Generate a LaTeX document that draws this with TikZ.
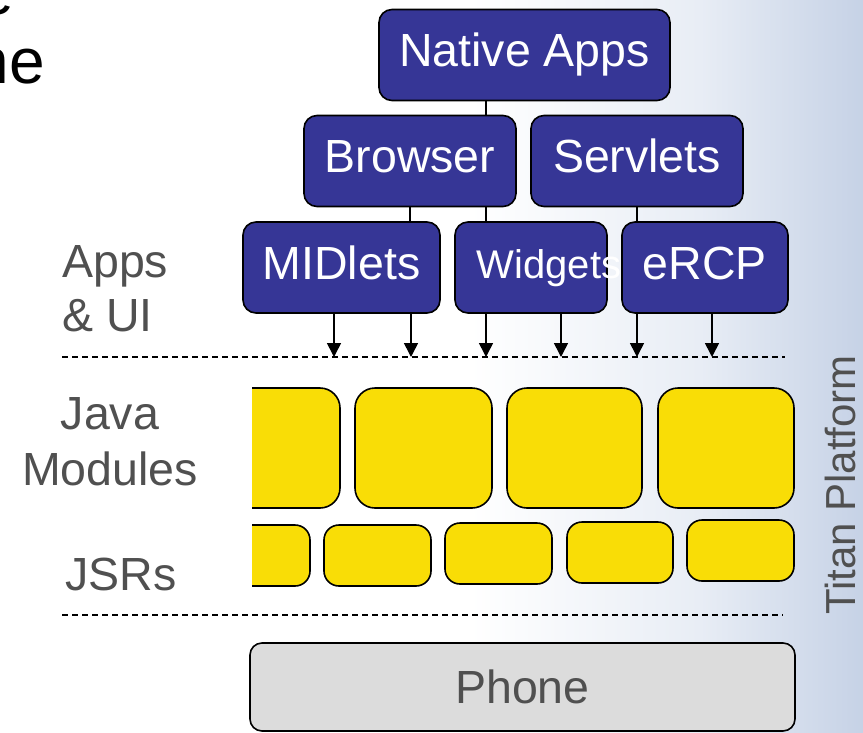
\documentclass[tikz,border=0pt]{standalone}
\usepackage{fontspec}
\setmainfont{Liberation Sans}
\usetikzlibrary{arrows.meta}
\usetikzlibrary{calc}
\definecolor{appblue}{RGB}{54,54,150}
\definecolor{modyellow}{RGB}{249,221,6}
\definecolor{phonegray}{RGB}{220,220,220}
\definecolor{labelgray}{RGB}{80,80,80}
\definecolor{bgblue}{RGB}{198,210,230}
\definecolor{bgmid}{RGB}{232,237,245}
\newcommand{\nagy}{\fontsize{46.5}{54}\selectfont}

\begin{document}
\begin{tikzpicture}[x=1pt,y=-1pt,>={Triangle[width=14pt,length=14pt]},
appbox/.style={rectangle,rounded corners=13pt,draw=black,line width=1.6pt,fill=appblue,text=white,font=\nagy,
  inner sep=0pt,minimum height=91pt,text height=34pt,text depth=11pt},
modul/.style={draw=black,line width=1.6pt,fill=modyellow},
kapocs/.style={line width=1.5pt},
sepline/.style={dash pattern=on 6pt off 4pt,line width=1.3pt},
layer/.style={text=labelgray,font=\nagy,inner sep=0pt}]

% background
\fill[white] (0,0) rectangle (863,732);
\shade[left color=white,right color=bgmid] (470,0) rectangle (700,732);
\shade[left color=bgmid,right color=bgblue] (700,0) rectangle (863,732);
\useasboundingbox (0,0) rectangle (863,732);
\clip (0,0) rectangle (863,732);

\node[anchor=base east,inner sep=0pt,font=\fontsize{64}{70}\selectfont] (cim1) at (14,14){e};
\node[anchor=base east,inner sep=0pt,font=\fontsize{64}{70}\selectfont] (cim2) at (45,83){ne};

% left labels
\node[layer,anchor=north west,align=left] (apps) at (62,245){Apps\\\& UI};
\node[layer,anchor=north,align=center,font=\fontsize{46.5}{56}\selectfont] (java) at (110,397){Java\\Modules};
\node[layer,anchor=base] (jsrs) at (121,590){JSRs};
\node[layer,rotate=90,anchor=base,font=\fontsize{42}{48}\selectfont] (titan) at (855,485){Titan Platform};

% apps
\node[appbox,minimum width=291pt](native) at (524.5,55){Native Apps};
\node[appbox,minimum width=212pt](browser) at (410,161){Browser};
\node[appbox,minimum width=212pt](servlets) at (637,161){Servlets};
\node[appbox,minimum width=197pt](midlets) at (341.5,267.5){MIDlets};
\node[appbox,minimum width=152pt](widget) at (531,267.5){};
\node[appbox,draw=none,fill=none,anchor=base,minimum height=0pt,text height=,text depth=,
  font=\fontsize{40}{46}\selectfont](widgettext) at ([xshift=18pt,yshift=-10.5pt]widget.center){Widgets};
\node[appbox,minimum width=166pt](ercp) at (705,267.5){eRCP};

\draw[kapocs] ([xshift=-38.5pt]native.south)--([xshift=-38.5pt]native.south |- browser.north);
\draw[kapocs] (browser.south)--(browser.south |- midlets.north);
\draw[kapocs] ([xshift=76pt]browser.south)--([xshift=76pt]browser.south |- widget.north);
\draw[kapocs] (servlets.south)--(servlets.south |- ercp.north);

% layer lines
\coordinate (ui-left) at (62,357);
\coordinate (ui-right) at (785,357);
\coordinate (jsr-left) at (62,615);
\coordinate (jsr-right) at (783,615);
\draw[sepline] (ui-left)--(ui-right);
\draw[sepline] (jsr-left)--(jsr-right);

\foreach \n/\dx in {midlets/-7.5,midlets/69.5,widget/-45,widget/30,ercp/-68,ercp/7}
  \draw[->,line width=1.6pt] ([xshift=\dx pt]\n.south)--([xshift=\dx pt]\n.south |- ui-left);

% modules and JSRs
\begin{scope}
\clip (252,0) rectangle (863,732);
\foreach \l/\r in {200/340,355/492,507/642,658/794}
  \draw[modul,rounded corners=20pt] (\l,388) rectangle (\r,508);
\foreach \l/\r/\t in {200/310/525,324/431/525,445/552/523,567/673/522,687/794/520}
  \draw[modul,rounded corners=15pt] (\l,\t) rectangle (\r,\t+61);
\end{scope}

\node[rectangle,rounded corners=12pt,draw=black,line width=1.6pt,fill=phonegray,text=labelgray,font=\nagy,
  inner sep=0pt,minimum width=545pt,minimum height=88pt,text height=33pt,text depth=0pt](phone) at (522.5,687){Phone};

\end{tikzpicture}
\end{document}
